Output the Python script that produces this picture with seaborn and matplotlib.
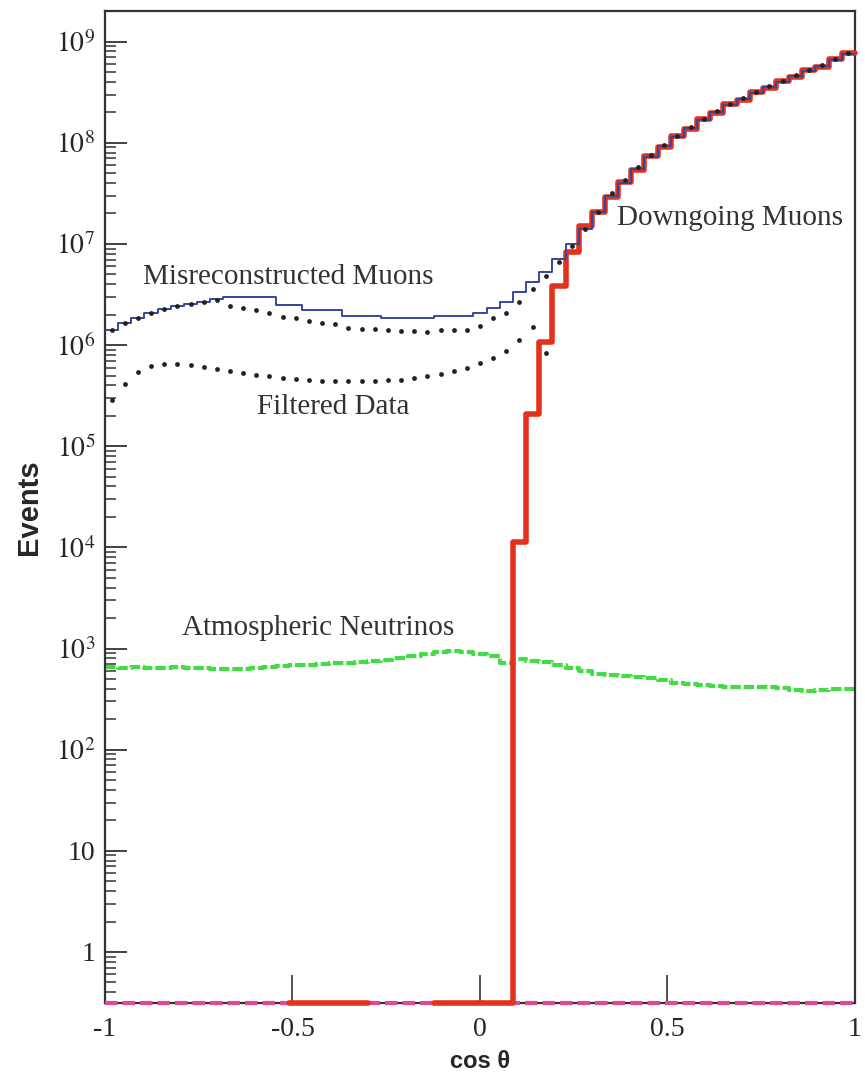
import numpy as np
import pandas as pd
import matplotlib
matplotlib.use("Agg")
import matplotlib.pyplot as plt
from matplotlib.ticker import LogLocator, NullFormatter
import seaborn as sns

# binning in cos(theta): 57 equal bins from -1 to 1
n_bins = 57
edges = np.linspace(-1, 1, n_bins + 1)
centers = 0.5 * (edges[:-1] + edges[1:])

# log10(events) per bin
misreco_log = [6.15, 6.22, 6.27, 6.32, 6.36, 6.39, 6.41, 6.43, 6.46, 6.48,
               6.48, 6.48, 6.48, 6.40, 6.40, 6.35, 6.35, 6.35, 6.29, 6.29,
               6.29, 6.27, 6.27, 6.27, 6.27, 6.29, 6.29, 6.29, 6.32, 6.37,
               6.43, 6.52, 6.62, 6.72, 6.85, 7.00, 7.15, 7.32, 7.47, 7.60,
               7.74, 7.86, 7.97, 8.06, 8.15, 8.23, 8.30, 8.37, 8.43, 8.49,
               8.55, 8.60, 8.66, 8.71, 8.76, 8.82, 8.88]

# nan = empty bin, -0.5 = bins lying on the bottom of the plot
downgoing_log = [np.nan] * 14 + [-0.5] * 6 + [np.nan] * 5 + [-0.5] * 6 + \
                [4.05, 5.32, 6.03, 6.58, 6.92, 7.18, 7.32, 7.46, 7.61,
                 7.73, 7.87, 7.96, 8.07, 8.14, 8.24, 8.29, 8.38, 8.42, 8.50,
                 8.54, 8.61, 8.65, 8.72, 8.75, 8.83, 8.89]

upper_dots_log = [6.15, 6.22, 6.27, 6.32, 6.36, 6.39, 6.41, 6.43, 6.45, 6.39,
                  6.37, 6.35, 6.32, 6.28, 6.27, 6.24, 6.22, 6.21, 6.17, 6.16,
                  6.16, 6.15, 6.14, 6.14, 6.13, 6.15, 6.15, 6.15, 6.19, 6.27,
                  6.32, 6.43, 6.55, 6.68, 6.82, 6.98, 7.15, 7.32, 7.50, 7.63,
                  7.76, 7.88, 7.98, 8.07, 8.16, 8.24, 8.31, 8.38, 8.44, 8.50,
                  8.56, 8.61, 8.67, 8.72, 8.77, 8.83, 8.89]

filtered_log = [5.46, 5.62, 5.73, 5.79, 5.81, 5.81, 5.80, 5.78, 5.76, 5.74,
                5.72, 5.70, 5.69, 5.67, 5.66, 5.65, 5.64, 5.64, 5.64, 5.64,
                5.64, 5.65, 5.65, 5.67, 5.69, 5.71, 5.74, 5.77, 5.82, 5.87,
                5.94, 6.05, 6.18, 5.92]

nu_log = [2.82, 2.81, 2.82, 2.81, 2.81, 2.82, 2.81, 2.81, 2.80, 2.80,
          2.80, 2.81, 2.82, 2.83, 2.84, 2.84, 2.85, 2.86, 2.86, 2.87,
          2.88, 2.89, 2.91, 2.93, 2.95, 2.97, 2.98, 2.97, 2.95, 2.93,
          2.86, 2.90, 2.88, 2.87, 2.84, 2.81, 2.78, 2.75, 2.74, 2.73,
          2.72, 2.71, 2.69, 2.66, 2.65, 2.64, 2.63, 2.62, 2.62, 2.62,
          2.62, 2.61, 2.59, 2.58, 2.59, 2.60, 2.60]

xticks = [-1, -0.5, 0, 0.5, 1]
xtick_labels = ["-1", "-0.5", "0", "0.5", "1"]
yticks = [1, 10, 1e2, 1e3, 1e4, 1e5, 1e6, 1e7, 1e8, 1e9]
ytick_labels = ["1", "10"] + [f"$10^{{{i}}}$" for i in range(2, 10)]

sns.set_style("white")
plt.rcParams["font.family"] = ["Liberation Serif", "DejaVu Serif"]
plt.rcParams["mathtext.fontset"] = "stix"

fig = plt.figure(figsize=(8.65, 10.75), dpi=100)
ax = fig.add_axes([0.1214, 0.067, 0.867, 0.9228])
ax.set_yscale("log")


def draw_steps(vals, **kw):
    vals = 10 ** np.asarray(vals, dtype=float)
    idx = np.flatnonzero(~np.isnan(vals))
    runs = np.split(idx, np.flatnonzero(np.diff(idx) > 1) + 1)
    for r in runs:
        x = edges[r[0]:r[-1] + 2]
        y = np.append(vals[r], vals[r[-1]])
        sns.lineplot(x=x, y=y, drawstyle="steps-post", ax=ax, **kw)


# bottom line of empty bins
ax.axhline(0.313, color="#e0489e", lw=3, ls=(0, (3, 1.2)), zorder=3,
           clip_on=False)

draw_steps(nu_log, color="#44dc44", lw=3.0, ls=(0, (2.5, 0.7)))
draw_steps(downgoing_log, color="#e2321e", lw=4.0, clip_on=False, zorder=4)
draw_steps(misreco_log, color="#3547a0", lw=1.4, zorder=4)

dots = pd.DataFrame({"x": np.concatenate([centers, centers[:len(filtered_log)]]),
                     "y": 10 ** np.array(upper_dots_log + filtered_log)})
sns.scatterplot(data=dots, x="x", y="y", s=12, color="#222222",
                linewidth=0, ax=ax, zorder=5)

ax.set_xlim(-1, 1)
ax.set_ylim(0.313, 2.01e9)
ax.set_xticks(xticks, xtick_labels, fontsize=20)
ax.set_yticks(yticks, ytick_labels, fontsize=20)
ax.yaxis.set_minor_locator(LogLocator(base=10, subs=np.arange(2, 10),
                                      numticks=100))
ax.yaxis.set_minor_formatter(NullFormatter())
ax.tick_params(axis="y", which="major", direction="in", length=16, width=1.3,
               color="#333333", pad=7, left=True)
ax.tick_params(axis="y", which="minor", direction="in", length=8, width=1.1,
               color="#333333", left=True)
ax.tick_params(axis="x", which="major", direction="in", length=20, width=1.2,
               color="#333333", pad=10, bottom=True)
for s in ax.spines.values():
    s.set_color("#333333")
    s.set_linewidth(1.6)

ax.set_xlabel("cos θ", fontsize=17, fontweight="bold",
              family=["Liberation Sans", "DejaVu Sans"])
ax.xaxis.set_label_coords(0.5, -0.0595)
ax.xaxis.label.set_verticalalignment("center")
ax.set_ylabel("Events", fontsize=21, fontweight="bold",
              family=["Liberation Sans", "DejaVu Sans"])
ax.yaxis.set_label_coords(-0.101, 0.5)
ax.yaxis.label.set_verticalalignment("center")

label_kw = dict(fontsize=21, color="#333333", va="center", ha="left")
ax.text(-0.899, 4.7e6, "Misreconstructed Muons", **label_kw)
ax.text(-0.595, 2.45e5, "Filtered Data", **label_kw)
ax.text(0.365, 1.8e7, "Downgoing Muons", **label_kw)
ax.text(-0.795, 1.6e3, "Atmospheric Neutrinos", **label_kw)

fig.savefig("out.png", dpi=100)
